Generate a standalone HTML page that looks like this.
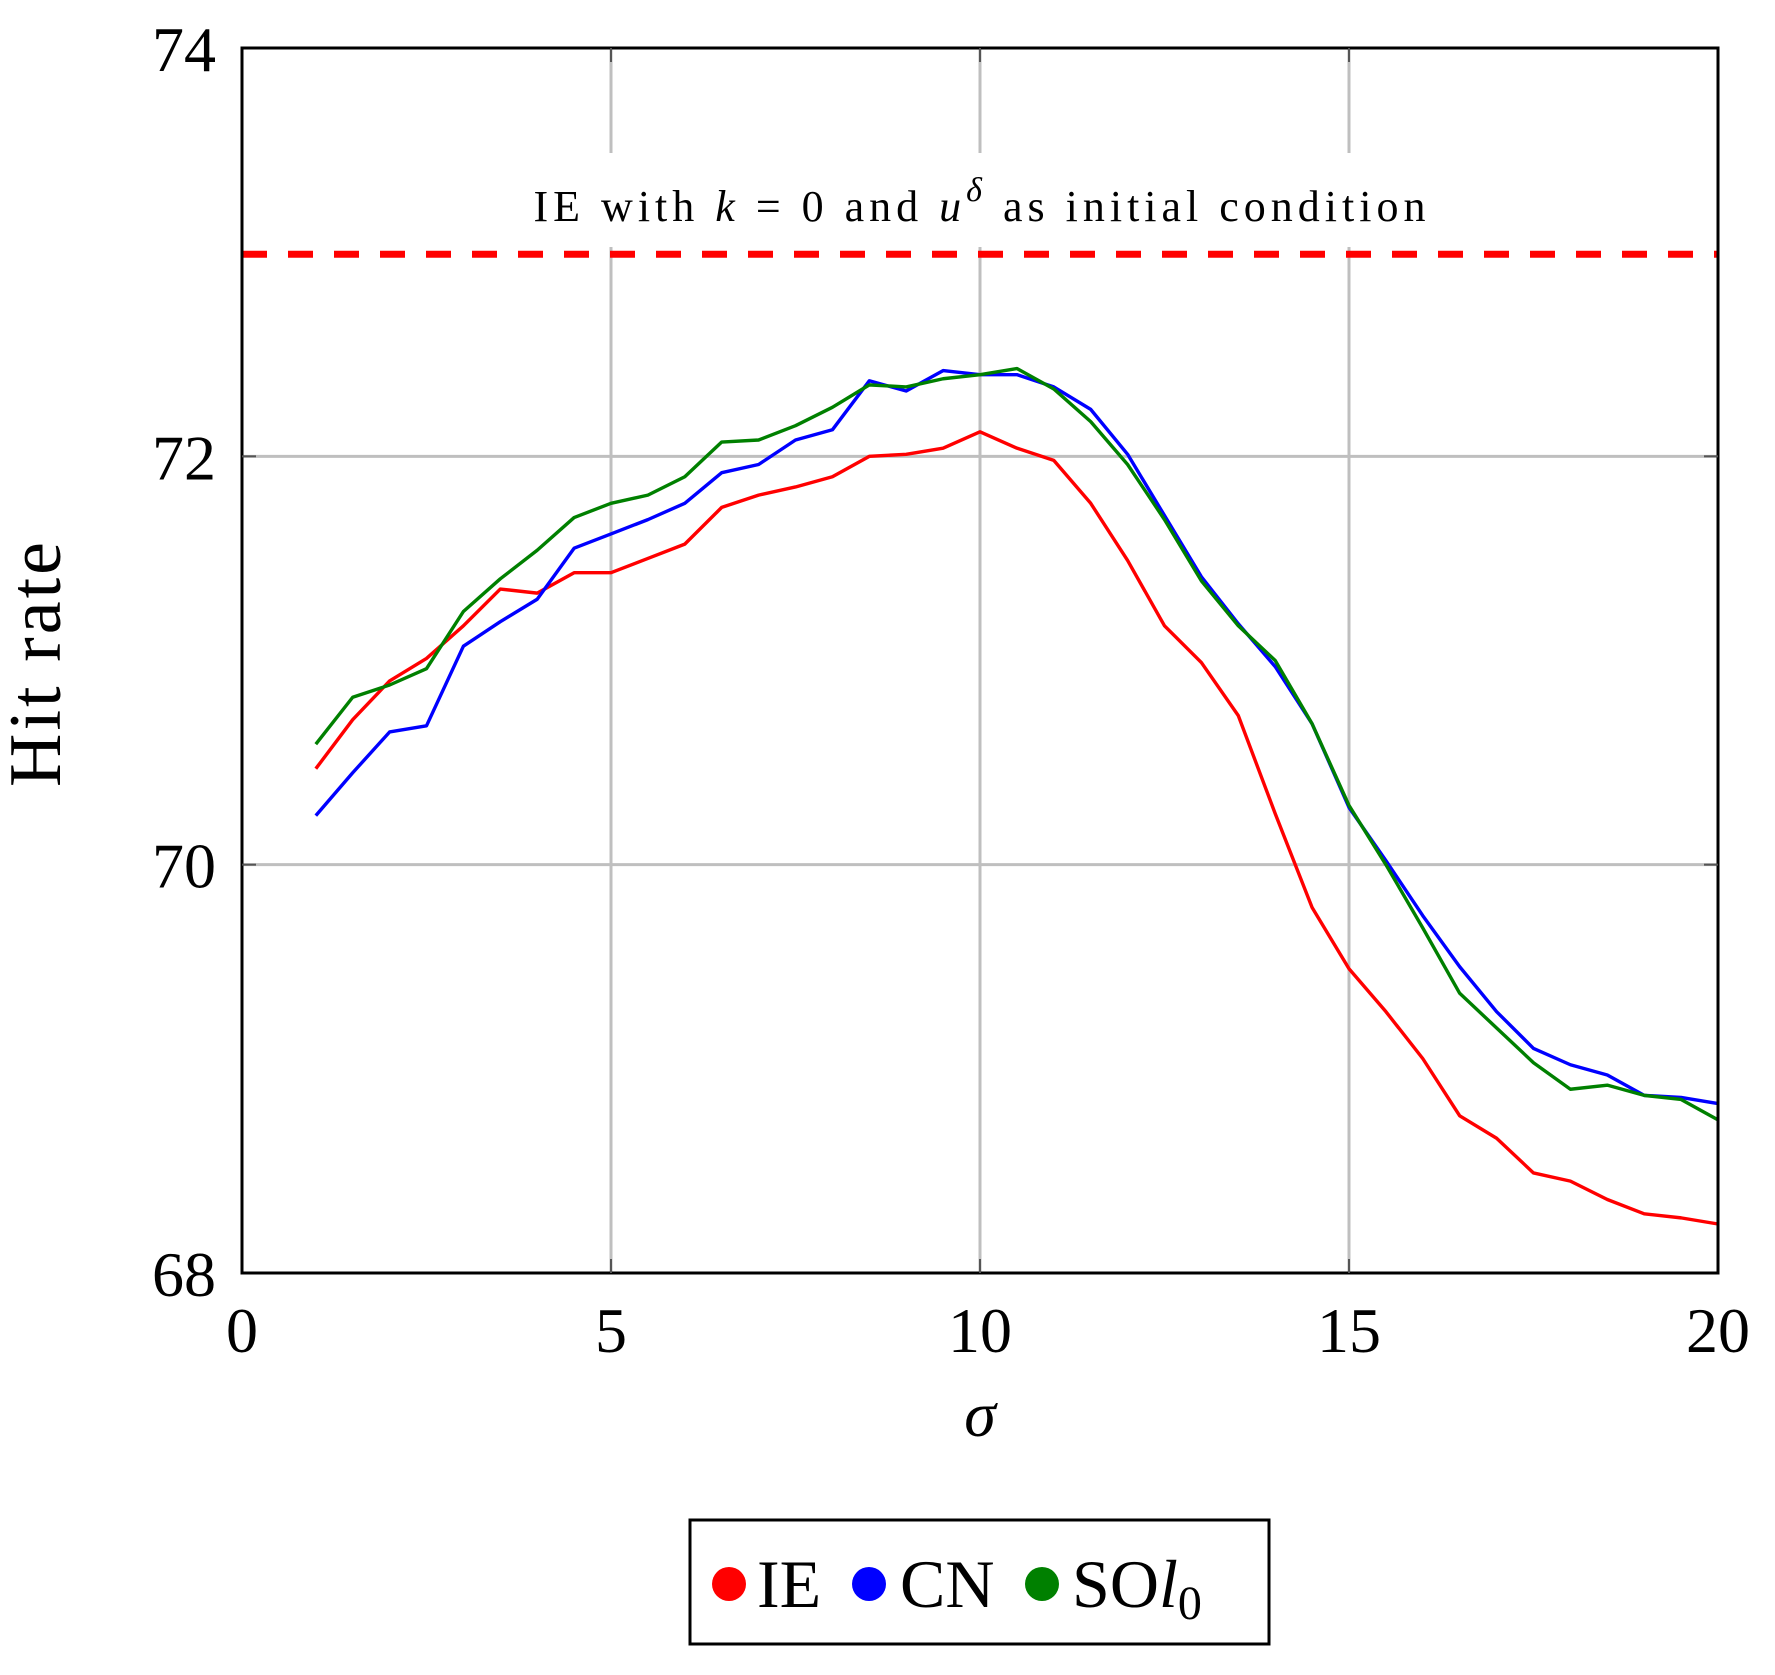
<!DOCTYPE html>
<html><head><meta charset="utf-8"><style>
body{margin:0;background:#fff}
svg text{font-family:"Liberation Serif",serif}
</style></head><body>
<svg width="1775" height="1670" xmlns="http://www.w3.org/2000/svg" id="chart">
<rect width="1775" height="1670" fill="#fff"/>
<g id="grid"></g>
<rect x="300" y="153" width="1400" height="94" fill="#fff"/>
<text x="982" y="221" font-size="44" text-anchor="middle" letter-spacing="5">IE with <tspan font-style="italic">k</tspan> = 0 and <tspan font-style="italic">u</tspan><tspan dy="-20" font-size="34" font-style="italic">δ</tspan><tspan dy="20"> as initial condition</tspan></text>
<g id="marks"></g>
<rect x="242" y="48" width="1476" height="1225" fill="none" stroke="#000" stroke-width="3"/>
<g id="ticks"></g>
<text x="60" y="663" font-size="74" letter-spacing="3" text-anchor="middle" transform="rotate(-90 60 663)">Hit rate</text>
<text x="980" y="1436" font-size="64" font-style="italic" text-anchor="middle">σ</text>
<g>
<rect x="690" y="1520" width="579" height="124" fill="#fff" stroke="#000" stroke-width="3"/>
<circle cx="729" cy="1584" r="17" fill="#ff0000"/>
<text x="757" y="1607" font-size="68">IE</text>
<circle cx="869" cy="1584" r="17" fill="#0000ff"/>
<text x="900" y="1607" font-size="68">CN</text>
<circle cx="1042" cy="1584" r="17" fill="#008000"/>
<text x="1072" y="1607" font-size="68">SO<tspan font-style="italic">l</tspan><tspan font-size="48" dy="12">0</tspan></text>
</g>
</svg>
<script>
const xs = [1,1.5,2,2.5,3,3.5,4,4.5,5,5.5,6,6.5,7,7.5,8,8.5,9,9.5,10,10.5,11,11.5,12,12.5,13,13.5,14,14.5,15,15.5,16,16.5,17,17.5,18,18.5,19,19.5,20];
const ieVals = [70.47,70.71,70.90,71.01,71.17,71.35,71.33,71.43,71.43,71.50,71.57,71.75,71.81,71.85,71.90,72.0,72.01,72.04,72.12,72.04,71.98,71.77,71.49,71.17,70.99,70.73,70.25,69.79,69.49,69.28,69.05,68.77,68.66,68.49,68.45,68.36,68.29,68.27,68.24];
const cnVals = [70.24,70.45,70.65,70.68,71.07,71.19,71.30,71.55,71.62,71.69,71.77,71.92,71.96,72.08,72.13,72.37,72.32,72.42,72.40,72.40,72.34,72.23,72.01,71.71,71.41,71.18,70.97,70.69,70.28,70.02,69.75,69.50,69.28,69.10,69.02,68.97,68.87,68.86,68.83];
const soVals = [70.59,70.82,70.88,70.96,71.24,71.40,71.54,71.70,71.77,71.81,71.90,72.07,72.08,72.15,72.24,72.35,72.34,72.38,72.40,72.43,72.33,72.17,71.96,71.69,71.39,71.17,71.00,70.69,70.29,70.00,69.69,69.37,69.20,69.03,68.90,68.92,68.87,68.85,68.75];
const baselineVal = [72.99];
const xTicks = [0,5,10,15,20];
const yTicks = [68,70,72,74];

const L=242,R=1718,T=48,B=1273;
const sx=v=>L+(v-0)/(20-0)*(R-L);
const sy=v=>B-(v-68)/(74-68)*(B-T);
const NS="http://www.w3.org/2000/svg";
const mk=(t,a,p)=>{const e=document.createElementNS(NS,t);for(const k in a)e.setAttribute(k,a[k]);p.appendChild(e);return e;};
const grid=document.getElementById('grid'),marks=document.getElementById('marks'),ticks=document.getElementById('ticks');

xTicks.forEach(v=>{
  if(v>0&&v<20){
    const g=mk('line',{x1:sx(v),x2:sx(v),y1:T,y2:B,stroke:'#bfbfbf','stroke-width':3},grid);
    
    
    const t1=mk('line',{x1:sx(v),x2:sx(v),y1:B,y2:B-14,stroke:'#555','stroke-width':2},ticks);
    
    
    const t2=mk('line',{x1:sx(v),x2:sx(v),y1:T,y2:T+14,stroke:'#555','stroke-width':2},ticks);
    
    
  }
  const tx=mk('text',{x:sx(v),y:1352,'font-size':64,'text-anchor':'middle'},ticks);
  tx.textContent=v;
  
  
});
yTicks.forEach(v=>{
  if(v>68&&v<74){
    const g=mk('line',{x1:L,x2:R,y1:sy(v),y2:sy(v),stroke:'#bfbfbf','stroke-width':3},grid);
    
    
    const t1=mk('line',{x1:L,x2:L+14,y1:sy(v),y2:sy(v),stroke:'#555','stroke-width':2},ticks);
    
    
    const t2=mk('line',{x1:R,x2:R-14,y1:sy(v),y2:sy(v),stroke:'#555','stroke-width':2},ticks);
    
    
  }
  const tx=mk('text',{x:216,y:sy(v)+23,'font-size':64,'text-anchor':'end'},ticks);
  tx.textContent=v;
  
  
});
const bl=mk('line',{x1:L,x2:R,y1:sy(baselineVal[0]),y2:sy(baselineVal[0]),stroke:'#ff0000','stroke-width':7,'stroke-dasharray':'25 21'},marks);


[[ieVals,'#ff0000','ie-line'],[cnVals,'#0000ff','cn-line'],[soVals,'#008000','sol0-line']].forEach(([vals,c,n])=>{
  const pts=vals.map((v,i)=>sx(xs[i])+','+sy(v)).join(' ');
  const p=mk('polyline',{points:pts,fill:'none',stroke:c,'stroke-width':3.4,'stroke-linejoin':'round'},marks);
  
  
});
</script>
</body></html>
